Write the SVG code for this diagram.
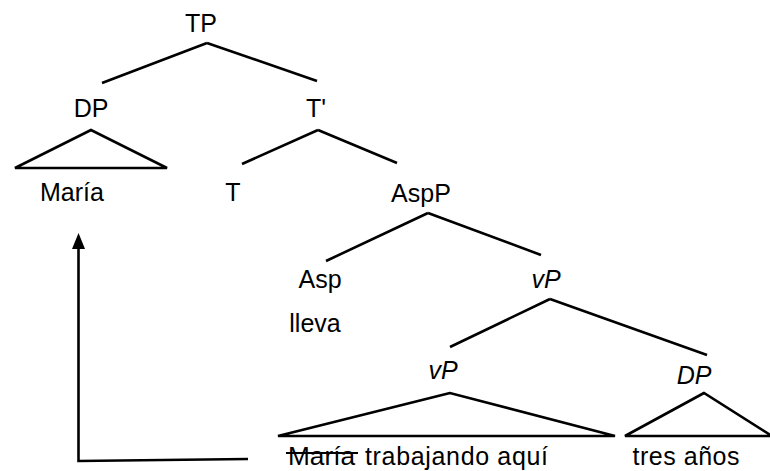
<svg xmlns="http://www.w3.org/2000/svg" width="770" height="471" viewBox="0 0 770 471">
  <style>
    text { font-family: "Liberation Sans", Arial, sans-serif; font-size: 25px; fill: #000; text-anchor: middle; }
    .it { font-style: italic; }
    .start { text-anchor: start; }
    .edge { stroke: #000; stroke-width: 2.6; fill: none; }
    .tri { stroke: #000; stroke-width: 2.6; fill: none; stroke-linejoin: miter; }
    .strike { stroke: #000; stroke-width: 2; }
  </style>
  <rect width="770" height="471" fill="#fff"/>

  <g id="connectors">
    <!-- TP branches -->
    <path class="edge" d="M207,43 L102,83 M207,43 L317,81"/>
    <!-- T' branches -->
    <path class="edge" d="M318,130 L242,164 M318,130 L397,163"/>
    <!-- AspP branches -->
    <path class="edge" d="M428,213 L326,261 M428,213 L541,255"/>
    <!-- upper vP branches -->
    <path class="edge" d="M550,299 L450,347 M550,299 L707,355"/>
    <!-- movement arrow from the trace up to the subject -->
    <path class="edge" d="M248,459 L78.5,461 L78.5,247"/>
    <polygon points="78.5,233 72,249 85,249" fill="#000"/>
  </g>

  <g id="TP"><text x="201" y="32">TP</text></g>
  <g id="DP"><text x="91" y="117">DP</text>
    <polygon class="tri" points="91,130 15,168 167,168"/></g>
  <g id="Tbar"><text x="316" y="117">T'</text></g>
  <g id="Maria"><text x="72" y="201">María</text></g>
  <g id="T"><text x="233" y="201">T</text></g>
  <g id="AspP"><text x="421" y="202">AspP</text></g>
  <g id="Asp"><text x="320" y="288">Asp</text></g>
  <g id="lleva"><text x="315" y="332">lleva</text></g>
  <g id="vP1"><text class="it" x="546" y="288">vP</text></g>
  <g id="vP2"><text class="it" x="443" y="379">vP</text>
    <polygon class="tri" points="450,393 278,436 615,436"/></g>
  <g id="DP2"><text class="it" x="694" y="384">DP</text>
    <polygon class="tri" points="704,393 625,436 772,436"/></g>
  <g id="leaves">
    <text class="start" x="288" y="465" textLength="67" lengthAdjust="spacingAndGlyphs">María</text>
    <line class="strike" x1="286" y1="453" x2="358" y2="453"/>
    <text class="start" x="365" y="465" textLength="183" lengthAdjust="spacing">trabajando aquí</text>
    <text x="686" y="465" textLength="107" lengthAdjust="spacing">tres años</text>
  </g>
</svg>
